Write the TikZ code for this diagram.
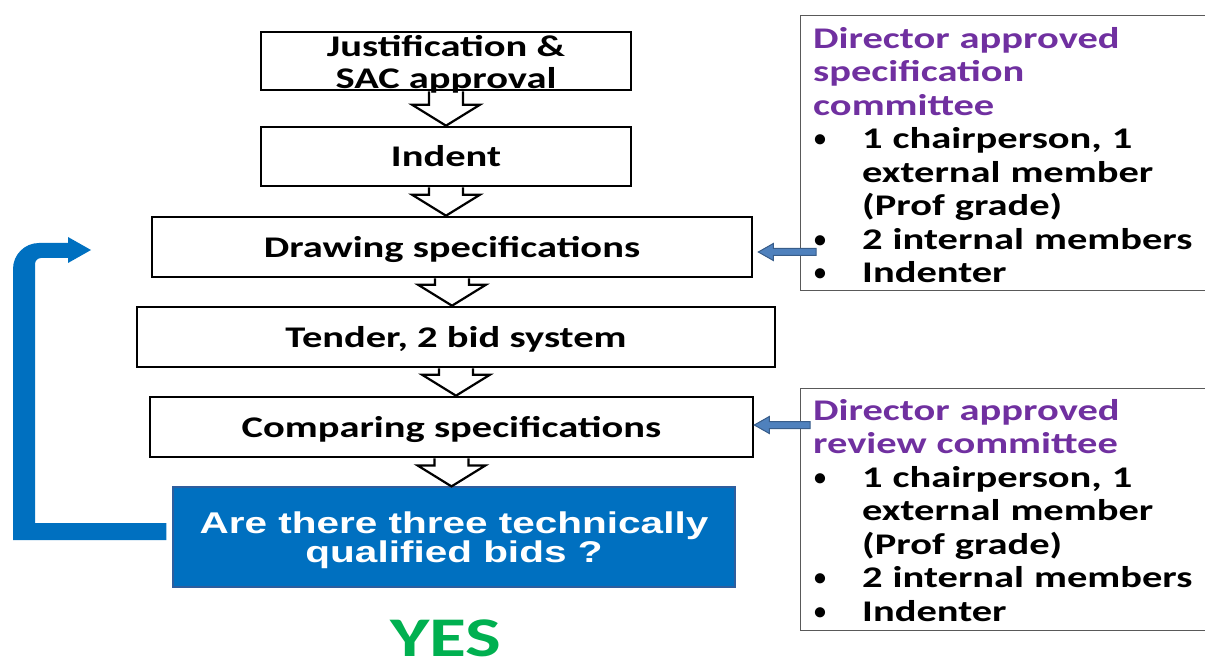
\documentclass[tikz,border=0pt]{standalone}
\usepackage{fontspec}
\setmainfont[FakeStretch=1.35]{Carlito}
\newfontfamily\arialfont[FakeStretch=1.35]{Liberation Sans}
\newfontfamily\dotfont{Carlito}
\usetikzlibrary{calc}

\definecolor{loopblue}{HTML}{0070C0}
\definecolor{questedge}{HTML}{2E5E9E}
\definecolor{cmpurple}{HTML}{7030A0}
\definecolor{yesgreen}{HTML}{00B050}
\definecolor{sidefill}{HTML}{4F81BD}
\definecolor{sideedge}{HTML}{385D8A}

\newcommand\cmitem[1]{\makebox[49pt][l]{\hspace{1pt}\raisebox{2pt}{\dotfont\fontsize{24}{24}\selectfont\textbullet}}#1}
\newcommand\cmcont[1]{\hspace*{49pt}#1}

\tikzset{
  stepbox/.style={draw=black, line width=2.6pt, inner sep=0pt, minimum height=60pt,
    text height=21.5pt, text depth=0.5pt, font=\bfseries\fontsize{30}{33}\selectfont},
  steptext/.style={inner sep=0pt, align=center, font=\bfseries\fontsize{30}{32}\selectfont},
  flowarrow/.style={draw=black, line width=2.2pt, line join=miter},
  questbox/.style={fill=loopblue, draw=questedge, line width=1.2pt, minimum width=562pt, minimum height=100pt},
  questtext/.style={inner sep=0pt, align=center, text=white, font=\arialfont\bfseries\fontsize{30}{29}\selectfont},
  cmbox/.style={draw=black!65, line width=1.3pt, anchor=north west, minimum width=410pt},
  cmtext/.style={inner sep=0pt, anchor=north west, text width=395pt, align=left,
    font=\bfseries\fontsize{30}{33.5}\selectfont},
  sidearrow/.style={fill=sidefill, draw=sideedge, line width=1pt}
}

\begin{document}
\begin{tikzpicture}[x=1pt,y=-1pt]
  \useasboundingbox (0,0) rectangle (1205,663);
  % Etapes
  \node[stepbox, minimum width=370pt, minimum height=58pt] (just) at (446,61) {};
  \node[steptext] (justtext) at (446,64) {Justification \&\\SAC approval};
  \node[stepbox, minimum width=370pt, minimum height=59pt] (indent) at (446,156.5) {Indent};
  \node[stepbox, minimum width=600pt] (drawspec) at (452,247) {Drawing specifications};
  \node[stepbox, minimum width=638pt] (tender) at (456,337) {Tender, 2 bid system};
  \node[stepbox, minimum width=603pt] (compare) at (451.5,427) {Comparing specifications};
  \node[questbox] (quest) at (454,537) {};
  \node[questtext] (questtext) at ([yshift=-3pt]quest.center) {Are there three technically\\qualified bids ?};
  \node[anchor=base, inner sep=0pt, text=yesgreen, font=\bfseries\fontsize{56}{60}\selectfont] (yes) at (446,656) {YES};
  % Fleches creuses
  \foreach \a/\b in {just/indent, indent/drawspec, drawspec/tender, tender/compare, compare/quest}
    \draw[flowarrow] let \p1=(\a.south), \p2=(\b.north) in
      (\x1-17pt,\y1) -- (\x1-17pt,\y2+21pt) -- (\x1-34pt,\y2+21pt) -- (\x1,\y2)
      -- (\x1+34pt,\y2+21pt) -- (\x1+17pt,\y2+21pt) -- (\x1+17pt,\y1);
  % Comites
  \node[cmbox, minimum height=275pt] (specbox) at (800,15) {};
  \node[cmtext] (spectext) at (813,27) {%
    \textcolor{cmpurple}{Director approved}\\
    \textcolor{cmpurple}{specification}\\
    \textcolor{cmpurple}{committee}\\
    \cmitem{1 chairperson, 1}\\
    \cmcont{external member}\\
    \cmcont{(Prof grade)}\\
    \cmitem{2 internal members}\\
    \cmitem{Indenter}};
  \node[cmbox, minimum height=242pt] (reviewbox) at (800,388) {};
  \node[cmtext] (reviewtext) at (813,399) {%
    \textcolor{cmpurple}{Director approved}\\
    \textcolor{cmpurple}{review committee}\\
    \cmitem{1 chairperson, 1}\\
    \cmcont{external member}\\
    \cmcont{(Prof grade)}\\
    \cmitem{2 internal members}\\
    \cmitem{Indenter}};
  \coordinate (specfrom) at (816,252);
  \coordinate (reviewfrom) at (810,425);
  \foreach \c/\t/\g in {specfrom/drawspec/5, reviewfrom/compare/0}
    \draw[sidearrow] let \p1=(\c), \p2=(\t.east) in
      (\x1,\y1+3.5pt) -- (\x2+\g pt+15pt,\y1+3.5pt) -- (\x2+\g pt+15pt,\y1+8.5pt) -- (\x2+\g pt,\y1)
      -- (\x2+\g pt+15pt,\y1-8.5pt) -- (\x2+\g pt+15pt,\y1-3.5pt) -- (\x1,\y1-3.5pt) -- cycle;
  % Boucle
  \coordinate (loopend) at (91,250);
  \fill[loopblue] ([shift={(-6,-14)}]quest.west) -- (35,523) [rounded corners=6pt] -- (35,258)
    [sharp corners] -- (68,258) -- (68,263) -- (loopend) -- (68,237) -- (68,243)
    [rounded corners=26pt] -- (13,243) [sharp corners] -- (13,540)
    -- ([shift={(-6,3)}]quest.west) -- cycle;
\end{tikzpicture}
\end{document}
